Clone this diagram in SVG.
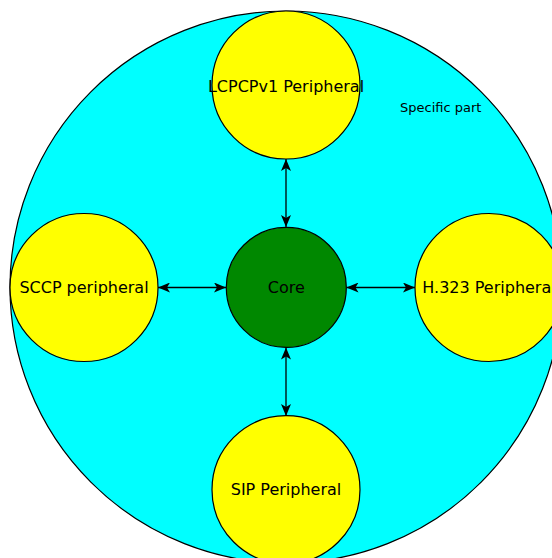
<svg xmlns="http://www.w3.org/2000/svg" width="552" height="558" viewBox="0 0 552 558">
<style>
.node{stroke:#000;stroke-width:1.2}
.lbl{font-family:"DejaVu Sans",sans-serif;font-size:16px;fill:#000;text-anchor:middle}
.con{stroke:#000;stroke-width:1.3;fill:none;marker-start:url(#ah);marker-end:url(#ah)}
</style>
<defs>
<marker id="ah" viewBox="0 0 12 10" refX="12" refY="5" markerWidth="12" markerHeight="10" markerUnits="userSpaceOnUse" orient="auto-start-reverse">
<path d="M0,0 L12,5 L0,10 L3,5 Z" fill="#000"/>
</marker>
</defs>
<rect width="552" height="558" fill="#fff"/>
<g id="specific-part">
<circle cx="286" cy="287" r="276" fill="#00ffff" class="node"/>
<text x="400" y="112" style="font-family:'DejaVu Sans',sans-serif;font-size:13px;fill:#000">Specific part</text>
</g>
<g id="connectors">
<line x1="286" y1="159" x2="286" y2="227" class="con"/>
<line x1="158" y1="287.5" x2="226" y2="287.5" class="con"/>
<line x1="346.5" y1="287.5" x2="415" y2="287.5" class="con"/>
<line x1="286" y1="347.5" x2="286" y2="416" class="con"/>
</g>
<g id="core">
<circle cx="286.3" cy="287.4" r="60" fill="#008800" class="node"/>
<text x="286.3" y="293.3" class="lbl">Core</text>
</g>
<g id="lcpcp">
<circle cx="286" cy="85" r="74" fill="#ffff00" class="node"/>
<text x="286" y="91.5" class="lbl">LCPCPv1 Peripheral</text>
</g>
<g id="sccp">
<circle cx="84" cy="287.5" r="74" fill="#ffff00" class="node"/>
<text x="84" y="293.3" class="lbl">SCCP peripheral</text>
</g>
<g id="h323">
<circle cx="489" cy="287.5" r="74" fill="#ffff00" class="node"/>
<text x="489" y="293.3" class="lbl">H.323 Peripheral</text>
</g>
<g id="sip">
<circle cx="286" cy="489.7" r="74" fill="#ffff00" class="node"/>
<text x="286" y="495.2" class="lbl">SIP Peripheral</text>
</g>
</svg>
